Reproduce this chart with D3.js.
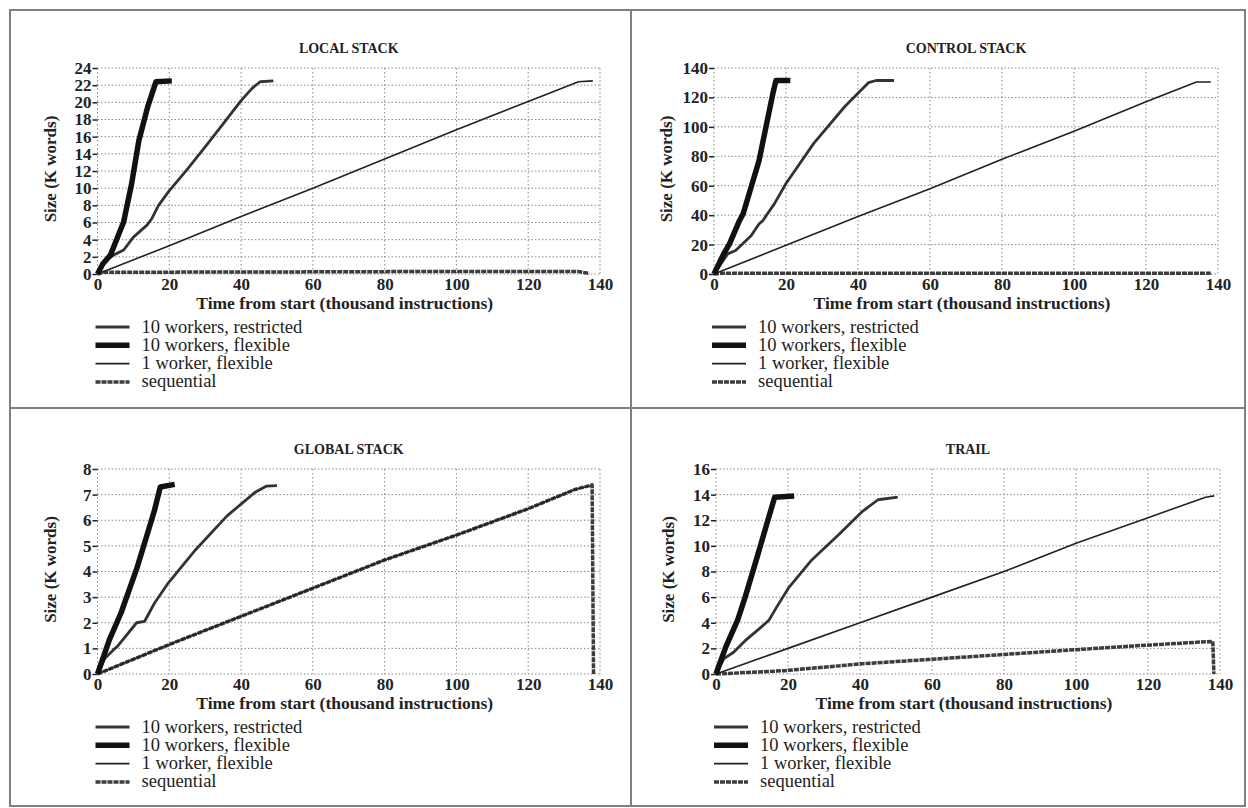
<!DOCTYPE html>
<html>
<head>
<meta charset="utf-8">
<script src="https://cdnjs.cloudflare.com/ajax/libs/d3/7.8.5/d3.min.js"></script>
<style>
  body { margin: 0; background: #fff; }
  svg, svg text { font-family: "Liberation Serif", "DejaVu Serif", "Times New Roman", serif !important; }
</style>
</head>
<body>
<div id="chart"></div>
<script>
// ---- data (x: thousand instructions, y: K words)
var panelTitles = ["LOCAL STACK", "CONTROL STACK", "GLOBAL STACK", "TRAIL"];
var seriesNames = ["10 workers, restricted", "10 workers, flexible", "1 worker, flexible", "sequential"];
var xTicks = [0, 20, 40, 60, 80, 100, 120, 140];
var yMaxes = [24, 140, 8, 16];
var ySteps = [2, 20, 1, 2];

var localRestricted = [[0,0],[2,1.5],[4.5,2.2],[7.3,2.8],[10,4.3],[13.8,5.7],[15.2,6.5],[17,8],[19.8,9.6],[25,12.2],[30,14.8],[35,17.5],[40,20.2],[43,21.6],[45.3,22.4],[49,22.5]];
var localFlexible = [[0,0],[1.5,1.2],[3.6,2.2],[5.5,4.2],[7.3,6.1],[9.5,10.5],[11.5,15.5],[14,19.5],[16.3,22.4],[20.7,22.5]];
var localOneWorker = [[0,0],[20,3.3],[40,6.7],[60,10],[80,13.4],[100,16.8],[120,20.1],[134,22.4],[138,22.5]];
var localSequential = [[0,0],[1.5,0.2],[60,0.25],[100,0.3],[134,0.3],[137,0.05]];

var controlRestricted = [[0,0],[3.8,13.7],[6,16],[10.3,26],[12.5,34],[13.6,36.4],[16.8,47.8],[20,61.5],[27.7,88.8],[36.4,114],[42.9,130],[45,131.5],[50,131.5]];
var controlFlexible = [[0,0],[2.7,13.7],[4.3,20.5],[7.1,36.4],[8.1,41],[12.5,77],[16.3,122],[17.2,131.5],[21.2,131.5]];
var controlOneWorker = [[0,0],[20,19.5],[40,39],[60,58],[80,78],[100,97],[120,117],[134,130.5],[138,130.5]];
var controlSequential = [[0,0],[2,0.5],[138,0.5]];

var globalRestricted = [[0,0],[2,0.6],[4.4,0.94],[5.5,1.07],[10.9,2.0],[13.1,2.05],[15.9,2.77],[19.7,3.55],[27.4,4.86],[36.1,6.17],[43.8,7.08],[47,7.33],[50,7.35]];
var globalFlexible = [[0,0],[3.3,1.33],[6.6,2.4],[10.9,4.1],[13.1,5.1],[15.9,6.4],[17.5,7.3],[21.5,7.4]];
var globalOneWorker = [[0,0],[20,1.15],[40,2.25],[61.3,3.42],[80,4.45],[100.6,5.45],[120,6.45],[133,7.2],[137.5,7.35]];
var globalSequential = [[0,0],[20,1.15],[40,2.25],[61.3,3.42],[80,4.45],[100.6,5.45],[120,6.45],[133,7.2],[137.8,7.38],[138.2,0]];

var trailRestricted = [[0,0],[2.2,1.2],[4.9,1.7],[8.1,2.6],[11.9,3.5],[14.7,4.2],[16.8,5.2],[20.1,6.7],[26.6,8.9],[34.2,10.9],[40.7,12.7],[45,13.6],[50.5,13.8]];
var trailFlexible = [[0,0],[2.7,2.1],[6,4.2],[8.1,6],[11.4,9.1],[14.1,11.7],[16.3,13.8],[21.7,13.9]];
var trailOneWorker = [[0,0],[20,2],[40,4],[60,6],[80,8],[100,10.2],[120,12.2],[136,13.8],[138.4,13.9]];
var trailSequential = [[0,0],[19,0.26],[40.7,0.8],[60,1.15],[84,1.6],[100,1.9],[116.7,2.2],[138,2.55],[138.3,0]];

// series order matches seriesNames
var panelSeries = [
  [localRestricted, localFlexible, localOneWorker, localSequential],
  [controlRestricted, controlFlexible, controlOneWorker, controlSequential],
  [globalRestricted, globalFlexible, globalOneWorker, globalSequential],
  [trailRestricted, trailFlexible, trailOneWorker, trailSequential]
];

// ---- layout
var width = 1248, height = 808;
var serif = '"Liberation Serif", "DejaVu Serif", "Times New Roman", serif';
var plotBoxes = [
  {left: 97.5, right: 600, top: 68, bottom: 274},
  {left: 714, right: 1218, top: 68, bottom: 274},
  {left: 97.5, right: 600, top: 469, bottom: 674},
  {left: 716, right: 1220, top: 469, bottom: 674}
];
var lineStyles = [
  {stroke: "#333", width: 2.8, dash: null},
  {stroke: "#111", width: 5.5, dash: null},
  {stroke: "#222", width: 1.6, dash: null},
  {stroke: "#3c3c3c", width: 3.5, dash: "5,1"}
];
var drawOrder = [3, 2, 0, 1];

var svg = d3.select("#chart")
    .append("svg")
    .attr("width", width)
    .attr("height", height);

// panel frame
svg.append("rect")
    .attr("x", 10).attr("y", 10)
    .attr("width", 1235).attr("height", 796)
    .attr("fill", "none").attr("stroke", "#808080").attr("stroke-width", 2);
svg.append("line")
    .attr("x1", 631).attr("x2", 631).attr("y1", 10).attr("y2", 806)
    .attr("stroke", "#808080").attr("stroke-width", 2);
svg.append("line")
    .attr("x1", 10).attr("x2", 1245).attr("y1", 408).attr("y2", 408)
    .attr("stroke", "#808080").attr("stroke-width", 2);

panelTitles.forEach(function(title, p) {
  var box = plotBoxes[p];
  var x = d3.scaleLinear().domain([0, 140]).range([box.left, box.right]);
  var y = d3.scaleLinear().domain([0, yMaxes[p]]).range([box.bottom, box.top]);
  var yTicks = d3.range(0, yMaxes[p] + ySteps[p] / 2, ySteps[p]);
  var g = svg.append("g").attr("class", "panel").style("font-family", serif);

  // dotted grid
  g.selectAll(".hgrid").data(yTicks).enter().append("line")
      .attr("x1", box.left).attr("x2", box.right)
      .attr("y1", function(d) { return y(d); })
      .attr("y2", function(d) { return y(d); })
      .attr("stroke", "#8a8a8a").attr("stroke-width", 1)
      .attr("stroke-dasharray", "1.5,2");
  g.selectAll(".vgrid").data(xTicks).enter().append("line")
      .attr("y1", box.top).attr("y2", box.bottom)
      .attr("x1", function(d) { return x(d); })
      .attr("x2", function(d) { return x(d); })
      .attr("stroke", "#8a8a8a").attr("stroke-width", 1)
      .attr("stroke-dasharray", "1.5,2.5");

  // y axis: short ticks + labels
  var yAxis = d3.axisLeft(y).tickValues(yTicks).tickSize(5).tickPadding(1);
  var ya = g.append("g")
      .attr("transform", "translate(" + box.left + ",0)")
      .call(yAxis)
      .attr("font-family", null);
  ya.select(".domain").remove();
  ya.selectAll(".tick line").attr("stroke", "#222").attr("stroke-width", 1.5);
  ya.selectAll(".tick text")
      .style("font-family", serif)
      .attr("font-size", 17).attr("font-weight", "bold").attr("fill", "#222");

  // x axis: labels only
  var xAxis = d3.axisBottom(x).tickValues(xTicks).tickSize(0).tickPadding(4);
  var xa = g.append("g")
      .attr("transform", "translate(0," + box.bottom + ")")
      .call(xAxis)
      .attr("font-family", null);
  xa.select(".domain").remove();
  xa.selectAll(".tick text")
      .style("font-family", serif)
      .attr("font-size", 17).attr("font-weight", "bold").attr("fill", "#222");

  // series
  var line = d3.line().x(function(d) { return x(d[0]); }).y(function(d) { return y(d[1]); });
  drawOrder.forEach(function(s) {
    var st = lineStyles[s];
    g.append("path")
        .datum(panelSeries[p][s])
        .attr("d", line)
        .attr("fill", "none")
        .attr("stroke", st.stroke)
        .attr("stroke-width", st.width)
        .attr("stroke-dasharray", st.dash)
        .attr("stroke-linejoin", "round");
  });

  // titles
  var cx = (box.left + box.right) / 2;
  g.append("text")
      .attr("x", cx).attr("y", box.top - 15)
      .attr("text-anchor", "middle")
      .style("font-family", serif)
      .attr("font-size", 14).attr("font-weight", "bold").attr("fill", "#222")
      .text(title);
  g.append("text")
      .attr("x", cx - 4).attr("y", box.bottom + 35)
      .attr("text-anchor", "middle")
      .style("font-family", serif)
      .attr("font-size", 17.5).attr("font-weight", "bold").attr("fill", "#222")
      .text("Time from start (thousand instructions)");
  g.append("text")
      .attr("transform", "translate(" + (box.left - 42) + "," + ((box.top + box.bottom) / 2 - 2) + ") rotate(-90)")
      .attr("text-anchor", "middle")
      .style("font-family", serif)
      .attr("font-size", 17).attr("font-weight", "bold").attr("fill", "#222")
      .text("Size (K words)");

  // legend
  var leg = g.selectAll(".legend").data(seriesNames).enter().append("g")
      .attr("transform", function(d, i) { return "translate(" + (box.left - 2) + "," + (box.bottom + 53 + i * 18.3) + ")"; });
  leg.append("line")
      .attr("x1", 0).attr("x2", 34).attr("y1", 0).attr("y2", 0)
      .attr("stroke", function(d, i) { return lineStyles[i].stroke; })
      .attr("stroke-width", function(d, i) { return lineStyles[i].width; })
      .attr("stroke-dasharray", function(d, i) { return lineStyles[i].dash; });
  leg.append("text")
      .attr("x", 46).attr("y", 5.5)
      .style("font-family", serif)
      .attr("font-size", 18.5).attr("fill", "#222")
      .text(function(d) { return d; });
});
</script>
</body>
</html>
